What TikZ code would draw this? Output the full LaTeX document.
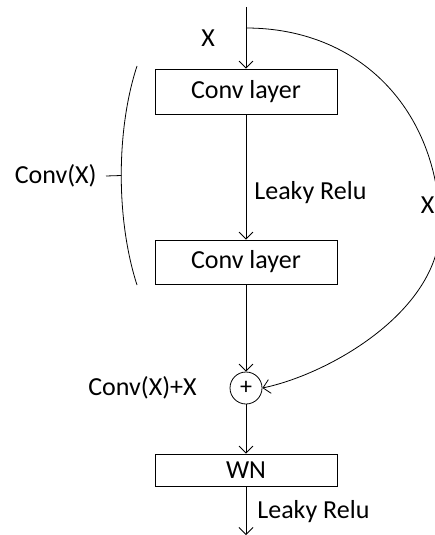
\documentclass[tikz,border=0pt]{standalone}
\usepackage{fontspec}
\setmainfont{Carlito}
\usetikzlibrary{arrows.meta}
\begin{document}
\begin{tikzpicture}[x=1pt,y=-1pt,
  line width=0.8pt,
  font=\fontsize{26}{30}\selectfont,
  layerbox/.style={draw, minimum width=182pt, inner sep=0pt},
  sumnode/.style={draw, circle, minimum size=32pt, inner sep=0pt, font=\fontsize{24}{28}\selectfont},
  arr/.style={-{Straight Barb[length=7pt,width=14pt]}},
  lbl/.style={inner sep=0pt}
]
\useasboundingbox (0,0) rectangle (435,535);
\clip (0,0) rectangle (435,535);
% nodes
\coordinate (top) at (246,7);
\coordinate (branch) at (246,28);
\node[layerbox, minimum height=45pt] (c1) at (246,91.5) {Conv layer};
\node[layerbox, minimum height=44pt] (c2) at (246,262) {Conv layer};
\node[sumnode] (plus) at (246,388) {+};
\node[layerbox, minimum height=32pt] (wn) at (246,470) {WN};
\coordinate (bot) at (246,535);
% labels
\node[lbl] (lx) at (208,38) {X};
\node[lbl, anchor=west] (lr1) at (254,193) {Leaky Relu};
\node[lbl, anchor=east] (lconv) at (97,176) {Conv(X)};
\node[lbl, anchor=east] (lsum) at (197,388) {Conv(X)+X};
\node[lbl, anchor=west] (lx2) at (420.5,205) {X};
\node[lbl, anchor=west] (lr2) at (257,512) {Leaky Relu};
% bracket
\coordinate (bt) at (137,66);
\coordinate (bm) at (121.3,175.5);
\coordinate (bb) at (137,285);
\draw (bt) .. controls (116,130) and (116,220) .. (bb);
\draw ([xshift=9pt]lconv.east) -- (bm);
% main flow
\draw[arr] (top) -- (c1.north);
\draw[arr] (c1.south) -- (c2.north);
\draw[arr] (c2.south) -- (plus.north);
\draw[arr] (plus.south) -- (wn.north);
\draw[arr] (wn.south) -- (bot);
% skip connection
\draw[arr] (branch) .. controls (360,28) and (438,110) .. (440,225)
  .. controls (441,310) and (330,374) .. (plus.east);
\end{tikzpicture}
\end{document}
